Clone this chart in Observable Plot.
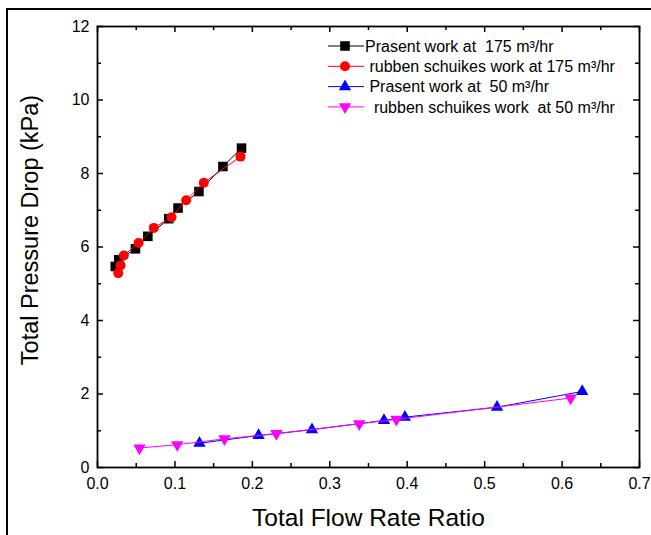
<!DOCTYPE html>
<html><head><meta charset="utf-8">
<script src="https://cdn.jsdelivr.net/npm/d3@7"></script>
<script src="https://cdn.jsdelivr.net/npm/@observablehq/plot@0.6"></script>
<style>
body{margin:0;background:#fff;font-family:"Liberation Sans",Arial,sans-serif;}
#wrap{position:relative;width:651px;height:535px;overflow:hidden;}
#wrap svg.plot{position:absolute;left:0;top:0;}
#outer{position:absolute;left:6px;top:8px;width:700px;height:600px;border-left:2px solid #000;border-top:2px solid #000;}
#legend{position:absolute;left:0;top:0;}
</style></head><body><div id="wrap"><div id="outer"></div></div>
<script>
// Series data
const p175X = [0.023, 0.0275, 0.049, 0.065, 0.092, 0.104, 0.131, 0.162, 0.186];
const p175Y = [5.47, 5.65, 5.95, 6.29, 6.77, 7.06, 7.51, 8.19, 8.69];
const r175X = [0.0267, 0.0297, 0.034, 0.053, 0.0727, 0.0956, 0.1145, 0.1373, 0.1847];
const r175Y = [5.29, 5.50, 5.77, 6.11, 6.52, 6.81, 7.27, 7.75, 8.46];
const p50X = [0.1317, 0.208, 0.277, 0.370, 0.397, 0.516, 0.626];
const p50Y = [0.66, 0.87, 1.03, 1.28, 1.37, 1.64, 2.07];
const r50X = [0.0542, 0.103, 0.164, 0.231, 0.338, 0.386, 0.611];
const r50Y = [0.53, 0.62, 0.78, 0.92, 1.19, 1.31, 1.89];
const seriesNames = ["Prasent work at  175 m\u00b3/hr", " rubben schuikes work at 175 m\u00b3/hr", " Prasent work at  50 m\u00b3/hr", "  rubben schuikes work  at 50 m\u00b3/hr"];
const seriesColors = ["#000000", "#ff0000", "#0000ff", "#ff00ff"];
const xMajor = [0, 0.1, 0.2, 0.3, 0.4, 0.5, 0.6, 0.7];
const xMinor = [0.05, 0.15, 0.25, 0.35, 0.45, 0.55, 0.65];
const yMajor = [0, 2, 4, 6, 8, 10, 12];
const yMinor = [1, 3, 5, 7, 9, 11];
const xLabel = "Total Flow Rate Ratio";
const yLabel = "Total Pressure Drop (kPa)";

const triDown = {
  draw(context, size) {
    const y = -Math.sqrt(size / (Math.sqrt(3) * 3));
    const s = Math.sqrt(3);
    context.moveTo(0, -y * 2);
    context.lineTo(-s * y, y);
    context.lineTo(s * y, y);
    context.closePath();
  }
};
const symbols = ["square", "circle", "triangle", triDown];
const radii = [5.4, 5, 4.6, 4.6];

const series = [[p175X, p175Y], [r175X, r175Y], [p50X, p50Y], [r50X, r50Y]].map(([xs, ys], i) =>
  xs.map((x, j) => ({x, y: ys[j], s: i})));

const kx = 0.7 / 542, ky = 12 / 441;
const marks = [];
// inward ticks
marks.push(Plot.ruleX(xMajor, {y1: 0, y2: 6 * ky, stroke: "#000", strokeWidth: 1.5}));
marks.push(Plot.ruleX(xMinor, {y1: 0, y2: 4 * ky, stroke: "#000", strokeWidth: 1.5}));
marks.push(Plot.ruleX(xMajor, {y1: 12, y2: 12 - 6 * ky, stroke: "#000", strokeWidth: 1.5}));
marks.push(Plot.ruleX(xMinor, {y1: 12, y2: 12 - 4 * ky, stroke: "#000", strokeWidth: 1.5}));
marks.push(Plot.ruleY(yMajor, {x1: 0, x2: 6 * kx, stroke: "#000", strokeWidth: 1.5}));
marks.push(Plot.ruleY(yMinor, {x1: 0, x2: 4 * kx, stroke: "#000", strokeWidth: 1.5}));
marks.push(Plot.ruleY(yMajor, {x1: 0.7, x2: 0.7 - 6 * kx, stroke: "#000", strokeWidth: 1.5}));
marks.push(Plot.ruleY(yMinor, {x1: 0.7, x2: 0.7 - 4 * kx, stroke: "#000", strokeWidth: 1.5}));
marks.push(Plot.frame({stroke: "#000", strokeWidth: 1.8}));
marks.push(Plot.axisX({ticks: xMajor, tickSize: 0, tickPadding: 10, tickFormat: d3.format(".1f"), label: null, fontSize: 16}));
marks.push(Plot.axisY({ticks: yMajor, tickSize: 0, tickPadding: 8, label: null, fontSize: 16}));
marks.push(Plot.text([xLabel], {frameAnchor: "bottom", dy: 51, fontSize: 24.5, lineAnchor: "middle"}));
marks.push(Plot.text([yLabel], {frameAnchor: "left", rotate: -90, dx: -67, dy: -17, fontSize: 23.5, lineAnchor: "middle", textAnchor: "middle"}));
series.forEach((data, i) => {
  marks.push(Plot.line(data, {x: "x", y: "y", stroke: seriesColors[i], strokeWidth: 1}));
  marks.push(Plot.dot(data, {x: "x", y: "y", fill: seriesColors[i], stroke: "none", symbol: () => symbols[i], r: radii[i]}));
});

const chart = Plot.plot({
  width: 651, height: 535,
  marginLeft: 97, marginTop: 26, marginRight: 12, marginBottom: 68,
  x: {domain: [0, 0.7]},
  y: {domain: [0, 12]},
  style: {fontFamily: "'Liberation Sans', Arial, sans-serif", fontSize: "16px", color: "#000", background: "transparent"},
  marks
});
chart.classList.add("plot");
document.getElementById("wrap").appendChild(chart);

// Legend
const leg = d3.select("#wrap").append("svg").attr("id", "legend").attr("width", 651).attr("height", 535)
  .style("position", "absolute").style("left", 0).style("top", 0);
seriesNames.forEach((name, i) => {
  const cy = 46 + i * 20.3;
  const g = leg.append("g");
  g.append("line").attr("x1", 328).attr("x2", 364).attr("y1", cy).attr("y2", cy).attr("stroke", seriesColors[i]).attr("stroke-width", 1);
  const sym = typeof symbols[i] === "string" ? d3.symbol(({square: d3.symbolSquare, circle: d3.symbolCircle, triangle: d3.symbolTriangle})[symbols[i]], Math.PI * radii[i] * radii[i]) : d3.symbol(symbols[i], Math.PI * radii[i] * radii[i]);
  g.append("path").attr("d", sym()).attr("transform", `translate(345,${cy})`).attr("fill", seriesColors[i]);
  g.append("text").attr("x", 365).attr("y", cy).attr("dy", "0.35em").attr("font-size", 16)
    .attr("font-family", "'Liberation Sans', Arial, sans-serif").style("white-space", "pre").attr("xml:space", "preserve").text(name);
});
</script></body></html>
